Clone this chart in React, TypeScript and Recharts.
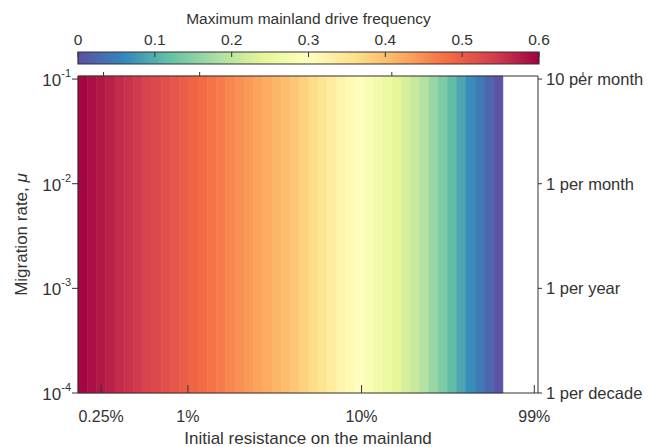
import React from 'react';
import { ComposedChart, XAxis, YAxis, ReferenceArea, Line } from 'recharts';

const FONT = '"Liberation Sans", Arial, Helvetica, sans-serif';
const INK = '#333333';

// max mainland drive frequency, one value per resistance column (left to right)
const columnValues = [
  0.595, 0.586, 0.578, 0.569, 0.56, 0.552, 0.543, 0.534, 0.526, 0.517,
  0.508, 0.5, 0.491, 0.482, 0.474, 0.465, 0.456, 0.447, 0.439, 0.43,
  0.421, 0.412, 0.402, 0.39, 0.377, 0.364, 0.35, 0.336, 0.322, 0.31,
  0.298, 0.285, 0.27, 0.256, 0.242, 0.225, 0.207, 0.19, 0.165, 0.14,
  0.115, 0.09, 0.066, 0.045, 0.025, 0.006,
];

// x axis runs in column units; tick positions + labels
const xMax = 49.8;
const xTickPos = [2.5, 11.9, 30.7, 49.4];
const xTickLabels = ['0.25%', '1%', '10%', '99%'];

const yMin = 1e-4;
const yMax = 0.107;
const yTicks = [1e-4, 1e-3, 1e-2, 1e-1];
const yExponents = ['-4', '-3', '-2', '-1'];
const yRightLabels = ['1 per decade', '1 per year', '1 per month', '10 per month'];

const cbTicks = [0, 0.1, 0.2, 0.3, 0.4, 0.5, 0.6];
const cbMax = 0.6;
// spectral colormap, low -> high
const spectral = [
  '#5e4fa2', '#3288bd', '#66c2a5', '#abdda4', '#e6f598', '#ffffbf',
  '#fee08b', '#fdae61', '#f46d43', '#d53e4f', '#9e0142',
];

const hexToRgb = (h: string) => [1, 3, 5].map((i) => parseInt(h.slice(i, i + 2), 16));

const colorFor = (v: number) => {
  const t = Math.max(0, Math.min(1, v / cbMax)) * (spectral.length - 1);
  const i = Math.min(Math.floor(t), spectral.length - 2);
  const f = t - i;
  const a = hexToRgb(spectral[i]);
  const b = hexToRgb(spectral[i + 1]);
  const c = a.map((ch, k) => Math.round(ch + (b[k] - ch) * f));
  return `rgb(${c[0]},${c[1]},${c[2]})`;
};

const cells = columnValues.map((v, i) => ({ x1: i, x2: i + 1, value: v, color: colorFor(v) }));
const cbData = cbTicks.map((v) => ({ v, y: 0.5 }));

const LeftTick = (props: any) => {
  const { x, y, payload } = props;
  const idx = yTicks.indexOf(payload.value);
  return (
    <g>
      <line x1={x + 1} x2={x + 7} y1={y} y2={y} stroke={INK} />
      <text x={x} y={y} textAnchor="end" fill={INK} fontFamily={FONT}>
        <tspan fontSize={17} dy={7}>10</tspan>
        <tspan fontSize={11} dy={-9}>{yExponents[idx]}</tspan>
      </text>
    </g>
  );
};

const RightTick = (props: any) => {
  const { x, y, payload } = props;
  const idx = yTicks.indexOf(payload.value);
  return (
    <g>
      <line x1={x - 8} x2={x - 4} y1={y} y2={y} stroke={INK} />
      <text x={x} y={y + 6} textAnchor="start" fill={INK} fontFamily={FONT} fontSize={16.5}>
        {yRightLabels[idx]}
      </text>
    </g>
  );
};

const BottomTick = (props: any) => {
  const { x, y, payload } = props;
  const idx = xTickPos.indexOf(payload.value);
  return (
    <g>
      <line x1={x} x2={x} y1={y - 8} y2={y - 16} stroke={INK} />
      <text x={x} y={y + 21} textAnchor="middle" fill={INK} fontFamily={FONT} fontSize={16}>
        {xTickLabels[idx]}
      </text>
    </g>
  );
};

const TopTick = (props: any) => {
  const { x, y } = props;
  return <line x1={x} x2={x} y1={y} y2={y - 4} stroke={INK} />;
};

const CbTick = (props: any) => {
  const { x, y, payload } = props;
  return (
    <g>
      <line x1={x} x2={x} y1={y + 7} y2={y + 12} stroke={INK} />
      <text x={x} y={y} textAnchor="middle" fill={INK} fontFamily={FONT} fontSize={15.5}>
        {payload.value}
      </text>
    </g>
  );
};

const YTitle = (props: any) => {
  const { viewBox } = props;
  const cx = viewBox.x + 13;
  const cy = viewBox.y + viewBox.height / 2;
  return (
    <text
      x={cx}
      y={cy}
      transform={`rotate(-90, ${cx}, ${cy})`}
      textAnchor="middle"
      dominantBaseline="central"
      fill={INK}
      fontFamily={FONT}
      fontSize={17}
    >
      Migration rate, <tspan fontStyle="italic">μ</tspan>
    </text>
  );
};

export default function App() {
  return (
    <div style={{ position: 'absolute', left: 0, top: 0, width: 654, height: 447, background: '#fff' }}>
      <div style={{ position: 'absolute', left: 0, top: 0 }}>
        <ComposedChart width={654} height={447} data={cells} margin={{ top: 70, right: 16, bottom: 0, left: 8 }}>
          <XAxis
            xAxisId="b"
            type="number"
            dataKey="x1"
            domain={[0, xMax]}
            ticks={xTickPos}
            interval={0}
            allowDataOverflow
            height={54}
            tickSize={0}
            tickMargin={8}
            tickLine={false}
            tick={<BottomTick />}
            axisLine={{ stroke: INK }}
            label={{
              value: 'Initial resistance on the mainland',
              position: 'insideBottom',
              offset: 3,
              fill: INK,
              fontSize: 17,
              fontFamily: FONT,
            }}
          />
          <XAxis
            xAxisId="t"
            type="number"
            orientation="top"
            domain={[0, xMax]}
            ticks={xTickPos}
            interval={0}
            allowDataOverflow
            height={6}
            tickSize={0}
            tickMargin={0}
            tickLine={false}
            tick={<TopTick />}
            axisLine={{ stroke: INK }}
          />
          <YAxis
            yAxisId="l"
            scale="log"
            type="number"
            domain={[yMin, yMax]}
            ticks={yTicks}
            interval={0}
            allowDataOverflow
            width={70}
            tickSize={0}
            tickMargin={7}
            tickLine={false}
            tick={<LeftTick />}
            axisLine={{ stroke: INK }}
            label={<YTitle />}
          />
          <YAxis
            yAxisId="r"
            orientation="right"
            scale="log"
            type="number"
            domain={[yMin, yMax]}
            ticks={yTicks}
            interval={0}
            allowDataOverflow
            width={100}
            tickSize={0}
            tickMargin={8}
            tickLine={false}
            tick={<RightTick />}
            axisLine={{ stroke: INK }}
          />
          {cells.map((c) => (
            <ReferenceArea
              key={c.x1}
              xAxisId="b"
              yAxisId="l"
              x1={c.x1}
              x2={c.x2}
              y1={yMin}
              y2={yMax}
              fill={c.color}
              fillOpacity={1}
              stroke={c.color}
              strokeWidth={0.6}
              ifOverflow="visible"
            />
          ))}
        </ComposedChart>
      </div>
      <div style={{ position: 'absolute', left: 0, top: 0 }}>
        <ComposedChart width={654} height={70} data={cbData} margin={{ top: 0, right: 115, bottom: 6, left: 78 }}>
          <defs>
            <linearGradient id="cbGrad" x1="0" x2="1" y1="0" y2="0">
              {spectral.map((c, i) => (
                <stop key={c} offset={i / (spectral.length - 1)} stopColor={c} />
              ))}
            </linearGradient>
          </defs>
          <XAxis
            xAxisId="c"
            type="number"
            dataKey="v"
            orientation="top"
            domain={[0, cbMax]}
            ticks={cbTicks}
            interval={0}
            height={52}
            tickSize={0}
            tickMargin={7}
            tickLine={false}
            axisLine={false}
            tick={<CbTick />}
            label={{
              value: 'Maximum mainland drive frequency',
              position: 'insideTop',
              offset: 13,
              fill: INK,
              fontSize: 15.5,
              fontFamily: FONT,
            }}
          />
          <YAxis yAxisId="c" type="number" dataKey="y" hide domain={[0, 1]} />
          <ReferenceArea
            xAxisId="c"
            yAxisId="c"
            x1={0}
            x2={cbMax}
            y1={0}
            y2={1}
            fill="url(#cbGrad)"
            fillOpacity={1}
            stroke={INK}
            strokeWidth={1.2}
            ifOverflow="visible"
          />
          <Line
            xAxisId="c"
            yAxisId="c"
            dataKey="y"
            stroke="none"
            dot={false}
            activeDot={false}
            isAnimationActive={false}
          />
        </ComposedChart>
      </div>
    </div>
  );
}
